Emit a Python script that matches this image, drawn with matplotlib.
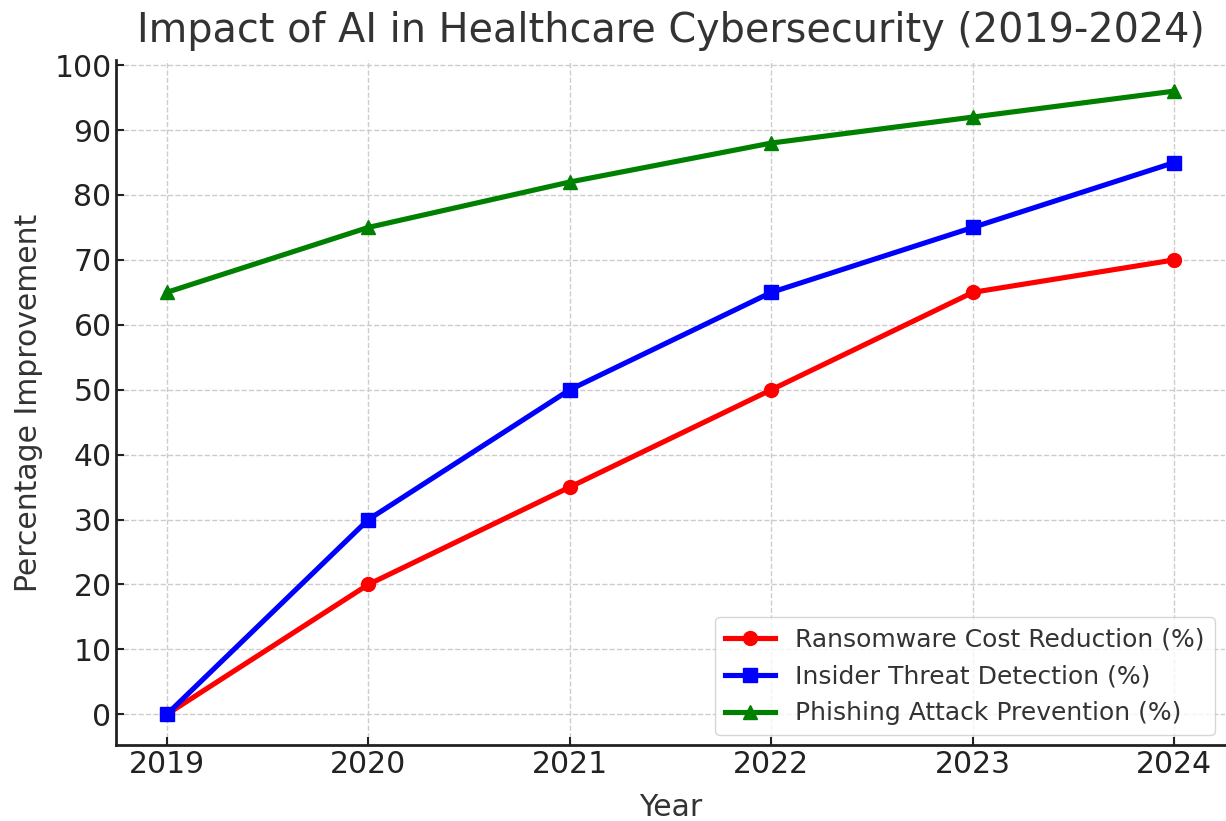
import matplotlib.pyplot as plt

years = [2019, 2020, 2021, 2022, 2023, 2024]
ransomware = [0, 20, 35, 50, 65, 70]
insider = [0, 30, 50, 65, 75, 85]
phishing = [65, 75, 82, 88, 92, 96]

plt.rcParams['font.family'] = ['DejaVu Sans']
plt.rcParams['text.color'] = '#333333'

fig, ax = plt.subplots(figsize=(12.26, 8.21), dpi=100)

ax.plot(years, ransomware, marker='o', color='red', lw=3.7, ms=10,
        label='Ransomware Cost Reduction (%)')
ax.plot(years, insider, marker='s', color='blue', lw=3.7, ms=10,
        label='Insider Threat Detection (%)')
ax.plot(years, phishing, marker='^', color='green', lw=3.7, ms=10,
        label='Phishing Attack Prevention (%)')

ax.set_title('Impact of AI in Healthcare Cybersecurity (2019-2024)',
             fontsize=28.6, color='#333333', pad=13)
ax.set_xlabel('Year', fontsize=21.5, color='#333333', labelpad=10)
ax.set_ylabel('Percentage Improvement', fontsize=21.5, color='#333333', labelpad=8)
ax.set_xticks(years)
ax.set_yticks(range(0, 101, 10))
ax.tick_params(direction='in', labelsize=21.5, colors='#222222', length=6, width=1.5)

ax.grid(True, linestyle='--', color='#cccccc', lw=1)
for s in ['top', 'right']:
    ax.spines[s].set_visible(False)
for s in ['left', 'bottom']:
    ax.spines[s].set_linewidth(2)
    ax.spines[s].set_color('#222222')

leg = ax.legend(loc='lower right', fontsize=18, handlelength=2.0,
                borderaxespad=0.4, labelspacing=0.52)
for t in leg.get_texts():
    t.set_color('#333333')

fig.subplots_adjust(left=0.095, right=0.999, top=0.927, bottom=0.092)
fig.savefig('out.png')
